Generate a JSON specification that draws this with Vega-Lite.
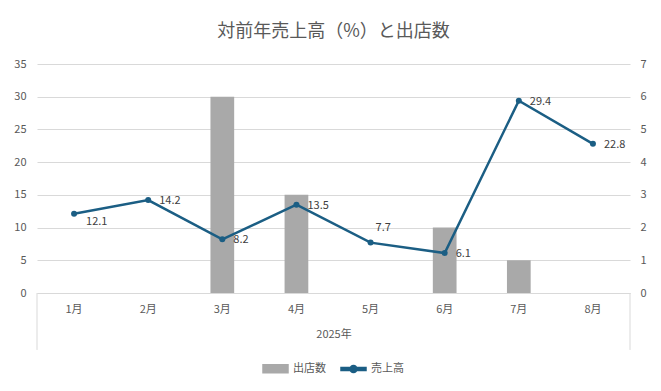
{
  "$schema": "https://vega.github.io/schema/vega-lite/v6.json",
  "width": 593,
  "height": 229,
  "autosize": {"type": "none"},
  "padding": {"left": 37, "top": 64, "right": 31, "bottom": 98},
  "background": "white",
  "config": {"font": "Noto Sans CJK JP", "view": {"stroke": null}},
  "title": {"text": "対前年売上高（%）と出店数", "fontSize": 18, "fontWeight": "normal", "color": "#595959", "anchor": "middle", "offset": 17},
  "data": {"values": [
    {"month": "1月", "sales": 12.1, "stores": 0},
    {"month": "2月", "sales": 14.2, "stores": 0},
    {"month": "3月", "sales": 8.2, "stores": 6},
    {"month": "4月", "sales": 13.5, "stores": 3},
    {"month": "5月", "sales": 7.7, "stores": 0},
    {"month": "6月", "sales": 6.1, "stores": 2},
    {"month": "7月", "sales": 29.4, "stores": 1},
    {"month": "8月", "sales": 22.8, "stores": 0}
  ]},
  "encoding": {
    "x": {"field": "month", "type": "ordinal", "sort": null,
      "scale": {"paddingInner": 0, "paddingOuter": 0},
      "axis": {"title": "2025年", "titleFontWeight": "normal", "titleFontSize": 11, "titleColor": "#595959", "titlePadding": 14,
        "labelAngle": 0, "labelPadding": 10, "labelFontSize": 11, "labelColor": "#595959", "ticks": false, "grid": false, "domainColor": "#D9D9D9"}}
  },
  "layer": [
    {
      "mark": {"type": "bar", "width": {"band": 0.32}},
      "encoding": {
        "y": {"field": "stores", "type": "quantitative", "scale": {"domain": [0, 7]},
          "axis": {"orient": "right", "title": null, "values": [0, 1, 2, 3, 4, 5, 6, 7], "grid": false, "domain": false, "ticks": false, "labelPadding": 10, "labelFontSize": 11, "labelColor": "#595959"}},
        "color": {"datum": "出店数", "type": "nominal",
          "scale": {"domain": ["出店数", "売上高"], "range": ["#A9A9A9", "#1B5E84"]},
          "legend": {"orient": "none", "legendX": 225, "legendY": 291, "direction": "horizontal", "title": null, "labelFontSize": 11, "labelColor": "#595959", "symbolSize": 625, "columnPadding": 12,
            "encode": {"symbols": {"update": {
              "shape": {"signal": "datum.value === '出店数' ? 'M-1,-0.32H1V0.32H-1Z' : 'M-1,-0.12H1V0.12H-1Z M-0.28,0A0.28,0.28,0,1,1,0.28,0A0.28,0.28,0,1,1,-0.28,0Z'"},
              "fill": {"signal": "datum.value === '出店数' ? '#A9A9A9' : '#1B5E84'"},
              "stroke": {"value": "transparent"},
              "opacity": {"value": 1}}}}}}
      }
    },
    {
      "encoding": {
        "y": {"field": "sales", "type": "quantitative", "scale": {"domain": [0, 35]},
          "axis": {"title": null, "values": [0, 5, 10, 15, 20, 25, 30, 35], "grid": true, "gridColor": "#D9D9D9", "domain": false, "ticks": false, "labelPadding": 11, "labelFontSize": 11, "labelColor": "#595959"}}
      },
      "layer": [
        {
          "mark": {"type": "line", "strokeWidth": 2.5, "point": {"filled": true, "size": 36}},
          "encoding": {
            "color": {"datum": "売上高", "type": "nominal"}
          }
        },
        {
          "transform": [{"filter": "datum.month !== '1月' && datum.month !== '5月'"}],
          "mark": {"type": "text", "align": "left", "baseline": "middle", "dx": 11, "dy": 1, "fontSize": 11, "color": "#404040"},
          "encoding": {"text": {"field": "sales", "type": "quantitative", "format": ".1f"}}
        },
        {
          "transform": [{"filter": "datum.month === '1月'"}],
          "mark": {"type": "text", "align": "left", "baseline": "middle", "dx": 12, "dy": 8, "fontSize": 11, "color": "#404040"},
          "encoding": {"text": {"field": "sales", "type": "quantitative", "format": ".1f"}}
        },
        {
          "transform": [{"filter": "datum.month === '5月'"}],
          "mark": {"type": "text", "align": "left", "baseline": "middle", "dx": 5, "dy": -15, "fontSize": 11, "color": "#404040"},
          "encoding": {"text": {"field": "sales", "type": "quantitative", "format": ".1f"}}
        },
        {
          "transform": [{"filter": "datum.month === '1月'"}],
          "mark": {"type": "rule", "color": "#D9D9D9", "strokeWidth": 1},
          "encoding": {
            "x": {"field": "month", "type": "ordinal", "sort": null, "bandPosition": 0,
              "axis": {"title": "2025年", "titleFontWeight": "normal", "titleFontSize": 11, "titleColor": "#595959", "titlePadding": 14,
                "labelAngle": 0, "labelPadding": 10, "labelFontSize": 11, "labelColor": "#595959", "ticks": false, "grid": false, "domainColor": "#D9D9D9"}},
            "y": {"datum": 0, "type": "quantitative",
              "axis": {"title": null, "values": [0, 5, 10, 15, 20, 25, 30, 35], "grid": true, "gridColor": "#D9D9D9", "domain": false, "ticks": false, "labelPadding": 11, "labelFontSize": 11, "labelColor": "#595959"}},
            "y2": {"datum": -8.7}
          }
        },
        {
          "transform": [{"filter": "datum.month === '8月'"}],
          "mark": {"type": "rule", "color": "#D9D9D9", "strokeWidth": 1},
          "encoding": {
            "x": {"field": "month", "type": "ordinal", "sort": null, "bandPosition": 1,
              "axis": {"title": "2025年", "titleFontWeight": "normal", "titleFontSize": 11, "titleColor": "#595959", "titlePadding": 14,
                "labelAngle": 0, "labelPadding": 10, "labelFontSize": 11, "labelColor": "#595959", "ticks": false, "grid": false, "domainColor": "#D9D9D9"}},
            "y": {"datum": 0, "type": "quantitative",
              "axis": {"title": null, "values": [0, 5, 10, 15, 20, 25, 30, 35], "grid": true, "gridColor": "#D9D9D9", "domain": false, "ticks": false, "labelPadding": 11, "labelFontSize": 11, "labelColor": "#595959"}},
            "y2": {"datum": -8.7}
          }
        }
      ]
    }
  ],
  "resolve": {"scale": {"y": "independent"}}
}
